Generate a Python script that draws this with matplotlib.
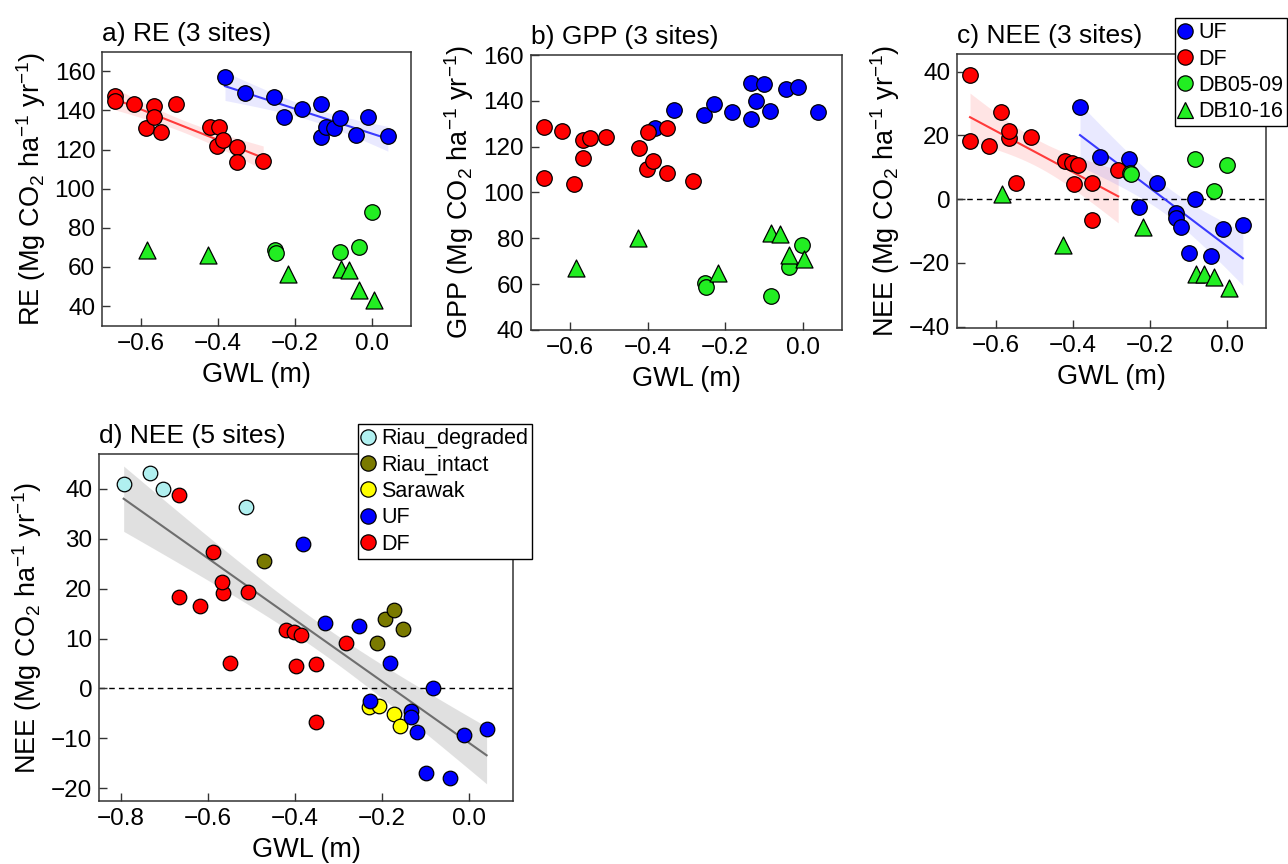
import numpy as np
import matplotlib
matplotlib.use("Agg")
import matplotlib.pyplot as plt
from matplotlib.lines import Line2D
from matplotlib.ticker import FuncFormatter

plt.rcParams['font.family'] = ['Liberation Sans', 'DejaVu Sans']
plt.rcParams['mathtext.fontset'] = 'custom'
plt.rcParams['mathtext.rm'] = 'Liberation Sans'
plt.rcParams['mathtext.it'] = 'Liberation Sans:italic'
plt.rcParams['mathtext.bf'] = 'Liberation Sans:bold'
plt.rcParams['axes.unicode_minus'] = True

# ---------------- data ----------------
# UF (undrained forest)
uf_gwl = [-0.382, -0.331, -0.254, -0.228, -0.183, -0.133, -0.133, -0.121, -0.100, -0.084, -0.043, -0.012, 0.040]
uf_re  = [157.1, 149.1, 146.6, 136.4, 140.5, 143.5, 126.6, 131.7, 131.2, 135.9, 127.4, 136.8, 127.1]
uf_gpp = [128.0, 136.0, 133.8, 138.6, 135.3, 147.9, 131.9, 140.1, 147.3, 135.7, 145.0, 146.2, 135.0]
uf_nee = [29.0, 13.2, 12.6, -2.5, 5.1, -4.5, -5.8, -8.8, -16.9, 0.1, -17.9, -9.3, -8.1]

# DF (drained forest)
df_gwl = [-0.667, -0.667, -0.619, -0.588, -0.565, -0.567, -0.549, -0.508, -0.421, -0.398, -0.402, -0.387, -0.351, -0.351, -0.283]
df_re  = [147.4, 145.0, 143.5, 131.2, 142.2, 136.4, 129.1, 143.5, 131.3, 131.3, 122.0, 124.9, 121.5, 113.4, 114.4]
df_gpp = [128.4, 106.2, 127.0, 103.6, 122.9, 115.2, 123.6, 124.1, 119.6, 126.3, 110.3, 113.7, 128.0, 108.4, 105.0]
df_nee = [18.3, 38.8, 16.6, 27.4, 19.1, 21.3, 5.2, 19.4, 11.8, 4.6, 11.4, 10.7, -6.7, 4.9, 9.2]

# DB05-09 (drained burnt, 2005-2009)
db1_gwl = [-0.253, -0.249, -0.083, -0.035, -0.001]
db1_re  = [68.6, 66.9, 67.7, 70.3, 87.9]
db1_gpp = [60.4, 58.6, 54.8, 67.3, 77.1]
db1_nee = [8.2, 8.0, 12.7, 2.4, 10.7]

# DB10-16 (drained burnt, 2010-2016)
db2_gwl = [-0.585, -0.425, -0.218, -0.082, -0.060, -0.035, 0.004]
db2_re  = [68.6, 66.0, 56.2, 59.1, 58.7, 48.2, 43.1]
db2_gpp = [66.9, 80.0, 65.0, 82.2, 81.9, 72.7, 71.0]
db2_nee = [1.7, -14.3, -8.6, -23.5, -23.5, -24.4, -28.0]

# other sites (panel d)
riau_deg_gwl = [-0.794, -0.733, -0.703, -0.512]
riau_deg_nee = [40.9, 43.1, 39.9, 36.4]
riau_int_gwl = [-0.472, -0.212, -0.193, -0.172, -0.152]
riau_int_nee = [25.6, 9.1, 14.0, 15.8, 12.0]
sarawak_gwl = [-0.230, -0.207, -0.173, -0.158]
sarawak_nee = [-3.7, -3.5, -5.1, -7.6]

# ---------------- styles ----------------
C_UF = '#0000FF'
C_DF = '#FF0000'
C_DB = '#22EE22'
C_RD = '#B0F0F0'
C_RI = '#7A7A00'
C_SW = '#FFFF00'

W, H = 1288, 864
fig = plt.figure(figsize=(W / 100, H / 100), dpi=100)

def px_axes(l, t, r, b):
    return fig.add_axes([l / W, 1 - b / H, (r - l) / W, (b - t) / H])

T_TABLE = {11: 2.201, 13: 2.160, 39: 2.023}

def reg_band(ax, x, y, color, fill, alpha, lw=1.5):
    x = np.asarray(x, float)
    y = np.asarray(y, float)
    n = len(x)
    b1, b0 = np.polyfit(x, y, 1)
    xs = np.linspace(x.min(), x.max(), 100)
    yhat = b0 + b1 * x
    s = np.sqrt(np.sum((y - yhat) ** 2) / (n - 2))
    sxx = np.sum((x - x.mean()) ** 2)
    se = s * np.sqrt(1.0 / n + (xs - x.mean()) ** 2 / sxx)
    t = T_TABLE.get(n - 2, 2.0)
    ys = b0 + b1 * xs
    ax.fill_between(xs, ys - t * se, ys + t * se, color=fill, alpha=alpha, lw=0, zorder=1)
    ax.plot(xs, ys, color=color, lw=lw, zorder=2)

TICK_FS = 17.5
LABEL_FS = 19.5
TITLE_FS = 19
LEG_FS = 15.5

def xfmt(v, pos):
    s = f"{v:.1f}"
    if s == "-0.0":
        s = "0.0"
    return s.replace('-', '\u2212')

def style(ax, title, ylabel, xticks, yticks, xlim, ylim):
    ax.set_xlim(*xlim)
    ax.set_ylim(*ylim)
    ax.set_xticks(xticks)
    ax.set_yticks(yticks)
    ax.xaxis.set_major_formatter(FuncFormatter(xfmt))
    ax.yaxis.set_major_formatter(FuncFormatter(lambda v, p: f"{v:.0f}".replace('-', '\u2212')))
    ax.tick_params(direction='in', length=6, width=1.0, labelsize=TICK_FS, pad=5, color='#333333')
    for sp in ax.spines.values():
        sp.set_linewidth(1.1)
        sp.set_color('#333333')
    ax.set_xlabel('GWL (m)', fontsize=LABEL_FS, labelpad=5)
    ax.set_ylabel(ylabel, fontsize=LABEL_FS, labelpad=5)
    ax.set_title(title, loc='left', fontsize=TITLE_FS, pad=8)

MS = 125
MS_T = 150
EC = 'black'
ELW = 0.9

def scatter_sites(ax, ys):
    ax.scatter(uf_gwl, ys[0], s=MS, c=C_UF, edgecolors=EC, linewidths=ELW, zorder=3, label='UF')
    ax.scatter(df_gwl, ys[1], s=MS, c=C_DF, edgecolors=EC, linewidths=ELW, zorder=3, label='DF')
    ax.scatter(db1_gwl, ys[2], s=MS, c=C_DB, edgecolors=EC, linewidths=ELW, zorder=3, label='DB05-09')
    ax.scatter(db2_gwl, ys[3], s=MS_T, marker='^', c=C_DB, edgecolors=EC, linewidths=ELW, zorder=3, label='DB10-16')

ylab_re = r'RE (Mg CO$_2$ ha$^{-1}$ yr$^{-1}$)'
ylab_gpp = r'GPP (Mg CO$_2$ ha$^{-1}$ yr$^{-1}$)'
ylab_nee = r'NEE (Mg CO$_2$ ha$^{-1}$ yr$^{-1}$)'
xt = [-0.6, -0.4, -0.2, 0.0]
XL = (-0.70, 0.10)

LEG_KW = dict(loc='upper left', fontsize=LEG_FS, frameon=True, fancybox=False,
              edgecolor='black', framealpha=1, borderpad=0.18, labelspacing=0.25,
              handlelength=0.6, handletextpad=0.3, borderaxespad=0.0)

# ---- a) RE ----
axa = px_axes(102.3, 51.7, 411.0, 325.7)
reg_band(axa, df_gwl, df_re, '#FF3A3A', '#FF5050', 0.15)
reg_band(axa, uf_gwl, uf_re, '#3A3AFF', '#5050FF', 0.12)
scatter_sites(axa, [uf_re, df_re, db1_re, db2_re])
style(axa, 'a) RE (3 sites)', ylab_re, xt, range(40, 161, 20), XL, (30, 170))

# ---- b) GPP ----
axb = px_axes(531.0, 55.0, 841.7, 330.0)
scatter_sites(axb, [uf_gpp, df_gpp, db1_gpp, db2_gpp])
style(axb, 'b) GPP (3 sites)', ylab_gpp, xt, range(40, 161, 20), XL, (40, 160))

# ---- c) NEE ----
axc = px_axes(957.3, 54.0, 1266.0, 328.3)
axc.axhline(0, color='black', lw=1.0, ls=(0, (4, 3)), zorder=1.5)
reg_band(axc, df_gwl, df_nee, '#FF3A3A', '#FF5050', 0.15)
reg_band(axc, uf_gwl, uf_nee, '#3A3AFF', '#5050FF', 0.12)
scatter_sites(axc, [uf_nee, df_nee, db1_nee, db2_nee])
style(axc, 'c) NEE (3 sites)', ylab_nee, xt, range(-40, 41, 20), XL, (-40.5, 45.5))

hc = [Line2D([], [], ls='', marker='o', ms=11, mfc=C_UF, mec=EC, mew=ELW),
      Line2D([], [], ls='', marker='o', ms=11, mfc=C_DF, mec=EC, mew=ELW),
      Line2D([], [], ls='', marker='o', ms=11, mfc=C_DB, mec=EC, mew=ELW),
      Line2D([], [], ls='', marker='^', ms=12, mfc=C_DB, mec=EC, mew=ELW)]
legc = fig.legend(hc, ['UF', 'DF', 'DB05-09', 'DB10-16'],
                  bbox_to_anchor=(1175 / W, 1 - 18.3 / H), **LEG_KW)
legc.get_frame().set_linewidth(1.0)

# ---- d) NEE 5 sites ----
axd = px_axes(99.3, 454.0, 512.7, 800.7)
axd.axhline(0, color='black', lw=1.0, ls=(0, (4, 3)), zorder=1.5)
all_x = riau_deg_gwl + riau_int_gwl + sarawak_gwl + uf_gwl + df_gwl
all_y = riau_deg_nee + riau_int_nee + sarawak_nee + uf_nee + df_nee
reg_band(axd, all_x, all_y, '#6E6E6E', '#C8C8C8', 0.55)
MSD = 110
axd.scatter(riau_deg_gwl, riau_deg_nee, s=MSD, c=C_RD, edgecolors=EC, linewidths=ELW, zorder=3)
axd.scatter(riau_int_gwl, riau_int_nee, s=MSD, c=C_RI, edgecolors=EC, linewidths=ELW, zorder=3)
axd.scatter(sarawak_gwl, sarawak_nee, s=MSD, c=C_SW, edgecolors=EC, linewidths=ELW, zorder=3)
axd.scatter(uf_gwl, uf_nee, s=MSD, c=C_UF, edgecolors=EC, linewidths=ELW, zorder=3)
axd.scatter(df_gwl, df_nee, s=MSD, c=C_DF, edgecolors=EC, linewidths=ELW, zorder=3)
style(axd, 'd) NEE (5 sites)', ylab_nee, [-0.8, -0.6, -0.4, -0.2, 0.0], range(-20, 41, 10), (-0.85, 0.10), (-22.5, 47))

hd = [Line2D([], [], ls='', marker='o', ms=11, mfc=c, mec=EC, mew=ELW)
      for c in [C_RD, C_RI, C_SW, C_UF, C_DF]]
legd = fig.legend(hd, ['Riau_degraded', 'Riau_intact', 'Sarawak', 'UF', 'DF'],
                  bbox_to_anchor=(357.7 / W, 1 - 424.3 / H), **LEG_KW)
legd.get_frame().set_linewidth(1.0)

fig.savefig('out.png', dpi=100)
